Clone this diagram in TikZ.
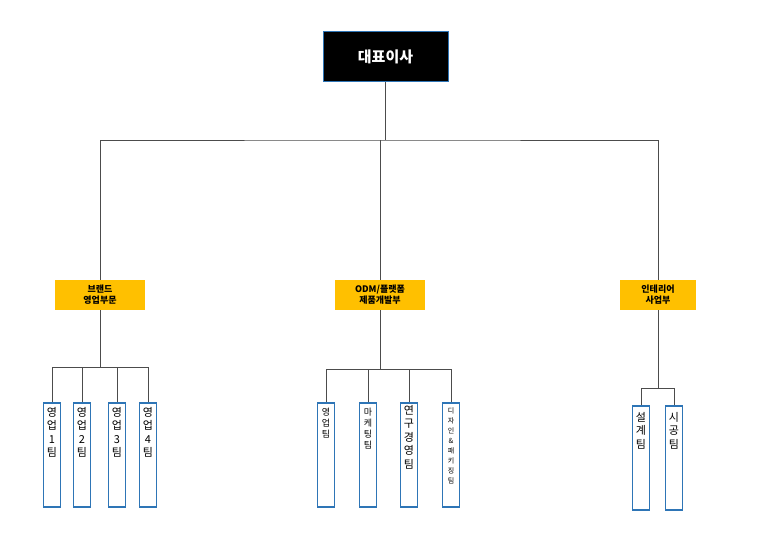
\documentclass[tikz,border=0pt]{standalone}
\usepackage{fontspec}
\setmainfont{Noto Sans CJK KR}
\usetikzlibrary{positioning}
\definecolor{boxblue}{HTML}{2E75B6}
\definecolor{headyellow}{HTML}{FFC000}
\tikzset{
  ceo/.style={rectangle, fill=black, draw=boxblue, line width=1pt, text=white, font=\bfseries\fontsize{15}{18}\selectfont, minimum width=125pt, minimum height=50pt},
  dept/.style={rectangle, fill=headyellow, font=\bfseries\fontsize{9}{11}\selectfont, align=center, minimum height=30pt, inner sep=1pt},
  team/.style={rectangle, draw=boxblue, line width=1.8pt, minimum width=17pt, minimum height=104pt, anchor=north},
  vtext/.style={anchor=north, align=center, font=\fontsize{11}{13.5}\selectfont, inner sep=0pt},
  link/.style={draw=black!70, line width=1pt}
}
\begin{document}
\begin{tikzpicture}[x=1pt, y=-1pt]
	\useasboundingbox (0,0) rectangle (772,543);

	\node[ceo] (ceo) at (385.5,57) {대표이사};

	\node[dept, minimum width=90pt] (brand) at (100,295) {브랜드\\영업부문};
	\node[dept, minimum width=90pt] (odm) at (380,295) {ODM/플랫폼\\제품개발부};
	\node[dept, minimum width=76pt] (inter) at (658,295) {인테리어\\사업부};

	\coordinate (top) at (385.5,140);
	\path[link] (ceo.south) -- (top);
	\path[link] (brand.north) |- (top) -| (inter.north);
	\path[link] (odm.north) -- (odm.north |- top);

	% brand teams
	\node[team] (b1) at (52,402) {};
	\node[team] (b2) at (82,402) {};
	\node[team] (b3) at (117,402) {};
	\node[team] (b4) at (148,402) {};
	\node[vtext, below=5pt of b1.north] (b1t) {영\\업\\1\\팀};
	\node[vtext, below=5pt of b2.north] (b2t) {영\\업\\2\\팀};
	\node[vtext, below=5pt of b3.north] (b3t) {영\\업\\3\\팀};
	\node[vtext, below=5pt of b4.north] (b4t) {영\\업\\4\\팀};
	\coordinate (bj) at (100,367);
	\path[link] (brand.south) -- (bj);
	\foreach \t in {b1,b2,b3,b4} \path[link] (\t.north) |- (bj);

	% odm teams
	\node[team] (o1) at (326,402) {};
	\node[team] (o2) at (368,402) {};
	\node[team] (o3) at (409,402) {};
	\node[team] (o4) at (451,402) {};
	\node[vtext, below=6pt of o1.north, font=\fontsize{9}{11}\selectfont] (o1t) {영\\업\\팀};
	\node[vtext, below=6pt of o2.north, font=\fontsize{9}{11}\selectfont] (o2t) {마\\케\\팅\\팀};
	\node[vtext, below=3pt of o3.north] (o3t) {연\\구\\경\\영\\팀};
	\node[vtext, below=6pt of o4.north, font=\fontsize{7}{10}\selectfont] (o4t) {디\\자\\인\\\&\\패\\키\\징\\팀};
	\coordinate (oj) at (380,369);
	\path[link] (odm.south) -- (oj);
	\foreach \t in {o1,o2,o3,o4} \path[link] (\t.north) |- (oj);

	% interior teams
	\node[team] (i1) at (641,405) {};
	\node[team] (i2) at (674,405) {};
	\node[vtext, below=7pt of i1.north] (i1t) {설\\계\\팀};
	\node[vtext, below=7pt of i2.north] (i2t) {시\\공\\팀};
	\coordinate (ij) at (658,388);
	\path[link] (inter.south) -- (ij);
	\foreach \t in {i1,i2} \path[link] (\t.north) |- (ij);
\end{tikzpicture}
\end{document}
